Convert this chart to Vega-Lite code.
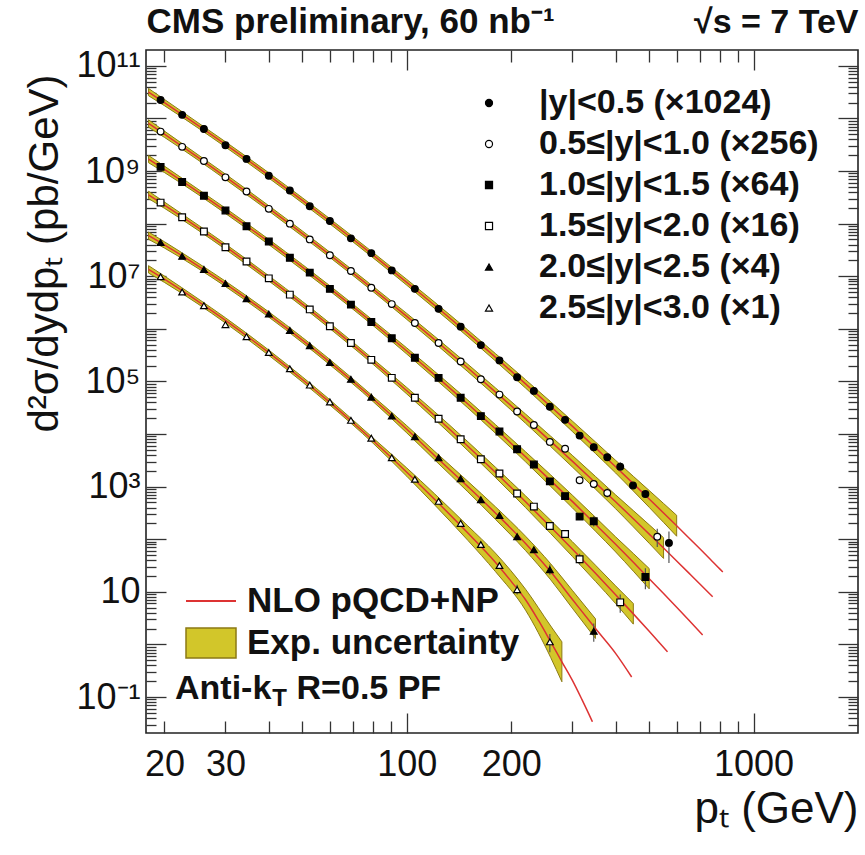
{
  "$schema": "https://vega.github.io/schema/vega-lite/v6.json",
  "width": 712,
  "height": 683,
  "autosize": {"type": "none"},
  "padding": {"left": 146, "top": 50, "right": 7, "bottom": 122},
  "background": "white",
  "datasets": {
    "curve": [
      {"s":1,"pt":18,"v":3.17e10},{"s":1,"pt":20,"v":2.00e10},{"s":1,"pt":25,"v":7.40e9},{"s":1,"pt":30,"v":3.21e9},{"s":1,"pt":40,"v":8.24e8},{"s":1,"pt":50,"v":2.76e8},{"s":1,"pt":60,"v":1.11e8},{"s":1,"pt":70,"v":5.04e7},{"s":1,"pt":80,"v":2.51e7},{"s":1,"pt":100,"v":7.66e6},{"s":1,"pt":120,"v":2.84e6},{"s":1,"pt":150,"v":8.18e5},{"s":1,"pt":180,"v":2.89e5},{"s":1,"pt":220,"v":8.99e4},{"s":1,"pt":260,"v":3.34e4},{"s":1,"pt":300,"v":1.41e4},{"s":1,"pt":350,"v":5.48e3},{"s":1,"pt":400,"v":2.39e3},{"s":1,"pt":450,"v":1.14e3},{"s":1,"pt":500,"v":583},{"s":1,"pt":550,"v":316},{"s":1,"pt":600,"v":180},{"s":1,"pt":650,"v":107},{"s":1,"pt":700,"v":65.8},{"s":1,"pt":750,"v":41.6},{"s":1,"pt":800,"v":27.0},{"s":1,"pt":815,"v":23.9},
      {"s":2,"pt":18,"v":8.02e9},{"s":2,"pt":20,"v":5.01e9},{"s":2,"pt":25,"v":1.82e9},{"s":2,"pt":30,"v":7.78e8},{"s":2,"pt":40,"v":1.95e8},{"s":2,"pt":50,"v":6.46e7},{"s":2,"pt":60,"v":2.55e7},{"s":2,"pt":70,"v":1.15e7},{"s":2,"pt":80,"v":5.70e6},{"s":2,"pt":100,"v":1.72e6},{"s":2,"pt":120,"v":6.31e5},{"s":2,"pt":150,"v":1.80e5},{"s":2,"pt":180,"v":6.34e4},{"s":2,"pt":220,"v":1.96e4},{"s":2,"pt":260,"v":7.24e3},{"s":2,"pt":300,"v":3.05e3},{"s":2,"pt":350,"v":1.18e3},{"s":2,"pt":400,"v":515},{"s":2,"pt":450,"v":245},{"s":2,"pt":500,"v":125},{"s":2,"pt":550,"v":67.9},{"s":2,"pt":600,"v":38.6},{"s":2,"pt":650,"v":22.9},{"s":2,"pt":700,"v":14.1},{"s":2,"pt":762,"v":8.04},
      {"s":3,"pt":18,"v":1.69e9},{"s":3,"pt":20,"v":1.08e9},{"s":3,"pt":25,"v":4.03e8},{"s":3,"pt":30,"v":1.75e8},{"s":3,"pt":40,"v":4.48e7},{"s":3,"pt":50,"v":1.49e7},{"s":3,"pt":60,"v":5.87e6},{"s":3,"pt":70,"v":2.62e6},{"s":3,"pt":80,"v":1.29e6},{"s":3,"pt":100,"v":3.78e5},{"s":3,"pt":120,"v":1.35e5},{"s":3,"pt":150,"v":3.72e4},{"s":3,"pt":180,"v":1.26e4},{"s":3,"pt":220,"v":3.69e3},{"s":3,"pt":260,"v":1.30e3},{"s":3,"pt":300,"v":524},{"s":3,"pt":350,"v":192},{"s":3,"pt":400,"v":80.0},{"s":3,"pt":450,"v":36.4},{"s":3,"pt":500,"v":17.8},{"s":3,"pt":550,"v":9.27},{"s":3,"pt":600,"v":5.07},{"s":3,"pt":650,"v":2.90},{"s":3,"pt":713,"v":1.51},
      {"s":4,"pt":18,"v":3.52e8},{"s":4,"pt":20,"v":2.25e8},{"s":4,"pt":25,"v":8.41e7},{"s":4,"pt":30,"v":3.65e7},{"s":4,"pt":40,"v":9.12e6},{"s":4,"pt":50,"v":2.96e6},{"s":4,"pt":60,"v":1.14e6},{"s":4,"pt":70,"v":4.95e5},{"s":4,"pt":80,"v":2.37e5},{"s":4,"pt":100,"v":6.65e4},{"s":4,"pt":120,"v":2.28e4},{"s":4,"pt":150,"v":5.87e3},{"s":4,"pt":180,"v":1.87e3},{"s":4,"pt":220,"v":516},{"s":4,"pt":260,"v":171},{"s":4,"pt":300,"v":65.3},{"s":4,"pt":350,"v":22.5},{"s":4,"pt":400,"v":8.81},{"s":4,"pt":450,"v":3.81},{"s":4,"pt":500,"v":1.78},{"s":4,"pt":565,"v":0.723},
      {"s":5,"pt":18,"v":5.92e7},{"s":5,"pt":20,"v":3.94e7},{"s":5,"pt":25,"v":1.58e7},{"s":5,"pt":30,"v":7.16e6},{"s":5,"pt":40,"v":1.87e6},{"s":5,"pt":50,"v":6.11e5},{"s":5,"pt":60,"v":2.33e5},{"s":5,"pt":70,"v":9.95e4},{"s":5,"pt":80,"v":4.63e4},{"s":5,"pt":100,"v":1.23e4},{"s":5,"pt":120,"v":3.95e3},{"s":5,"pt":150,"v":1.00e3},{"s":5,"pt":180,"v":316},{"s":5,"pt":220,"v":83.2},{"s":5,"pt":260,"v":24.0},{"s":5,"pt":300,"v":7.24},{"s":5,"pt":350,"v":2.00},{"s":5,"pt":400,"v":0.676},{"s":5,"pt":445,"v":0.240},
      {"s":6,"pt":18,"v":1.35e7},{"s":6,"pt":20,"v":8.77e6},{"s":6,"pt":25,"v":3.33e6},{"s":6,"pt":30,"v":1.45e6},{"s":6,"pt":40,"v":3.52e5},{"s":6,"pt":50,"v":1.09e5},{"s":6,"pt":60,"v":3.99e4},{"s":6,"pt":70,"v":1.64e4},{"s":6,"pt":80,"v":7.46e3},{"s":6,"pt":100,"v":1.88e3},{"s":6,"pt":120,"v":582},{"s":6,"pt":150,"v":131},{"s":6,"pt":180,"v":36.6},{"s":6,"pt":200,"v":15.8},{"s":6,"pt":220,"v":7.08},{"s":6,"pt":240,"v":2.82},{"s":6,"pt":260,"v":1.12},{"s":6,"pt":280,"v":0.468},{"s":6,"pt":300,"v":0.209},{"s":6,"pt":320,"v":0.0891},{"s":6,"pt":343,"v":0.0339}
    ],
    "band": [
      {"s":1,"pt":18,"lo":2.70e10,"hi":3.72e10},{"s":1,"pt":20,"lo":1.75e10,"hi":2.30e10},{"s":1,"pt":25,"lo":6.59e9,"hi":8.30e9},{"s":1,"pt":30,"lo":2.86e9,"hi":3.60e9},{"s":1,"pt":40,"lo":7.35e8,"hi":9.25e8},{"s":1,"pt":50,"lo":2.46e8,"hi":3.10e8},{"s":1,"pt":60,"lo":9.89e7,"hi":1.24e8},{"s":1,"pt":80,"lo":2.23e7,"hi":2.81e7},{"s":1,"pt":100,"lo":6.75e6,"hi":8.69e6},{"s":1,"pt":120,"lo":2.47e6,"hi":3.26e6},{"s":1,"pt":150,"lo":7.05e5,"hi":9.51e5},{"s":1,"pt":180,"lo":2.46e5,"hi":3.40e5},{"s":1,"pt":220,"lo":7.48e4,"hi":1.08e5},{"s":1,"pt":260,"lo":2.72e4,"hi":4.11e4},{"s":1,"pt":300,"lo":1.12e4,"hi":1.77e4},{"s":1,"pt":350,"lo":4.26e3,"hi":7.06e3},{"s":1,"pt":400,"lo":1.82e3,"hi":3.16e3},{"s":1,"pt":450,"lo":826,"hi":1.57e3},{"s":1,"pt":500,"lo":404,"hi":843},{"s":1,"pt":550,"lo":209,"hi":479},{"s":1,"pt":600,"lo":114,"hi":285},
      {"s":2,"pt":18,"lo":6.82e9,"hi":9.42e9},{"s":2,"pt":20,"lo":4.37e9,"hi":5.75e9},{"s":2,"pt":25,"lo":1.62e9,"hi":2.04e9},{"s":2,"pt":30,"lo":6.93e8,"hi":8.73e8},{"s":2,"pt":40,"lo":1.74e8,"hi":2.19e8},{"s":2,"pt":50,"lo":5.75e7,"hi":7.24e7},{"s":2,"pt":60,"lo":2.28e7,"hi":2.86e7},{"s":2,"pt":80,"lo":5.08e6,"hi":6.40e6},{"s":2,"pt":100,"lo":1.51e6,"hi":1.96e6},{"s":2,"pt":120,"lo":5.46e5,"hi":7.29e5},{"s":2,"pt":150,"lo":1.53e5,"hi":2.12e5},{"s":2,"pt":180,"lo":5.31e4,"hi":7.57e4},{"s":2,"pt":220,"lo":1.60e4,"hi":2.40e4},{"s":2,"pt":260,"lo":5.77e3,"hi":9.10e3},{"s":2,"pt":300,"lo":2.37e3,"hi":3.94e3},{"s":2,"pt":350,"lo":895,"hi":1.56e3},{"s":2,"pt":400,"lo":380,"hi":698},{"s":2,"pt":450,"lo":172,"hi":350},{"s":2,"pt":500,"lo":83.6,"hi":188},{"s":2,"pt":550,"lo":43.1,"hi":107},
      {"s":3,"pt":18,"lo":1.44e9,"hi":1.98e9},{"s":3,"pt":20,"lo":9.38e8,"hi":1.24e9},{"s":3,"pt":25,"lo":3.59e8,"hi":4.52e8},{"s":3,"pt":30,"lo":1.56e8,"hi":1.97e8},{"s":3,"pt":40,"lo":3.99e7,"hi":5.02e7},{"s":3,"pt":50,"lo":1.32e7,"hi":1.67e7},{"s":3,"pt":60,"lo":5.24e6,"hi":6.59e6},{"s":3,"pt":80,"lo":1.15e6,"hi":1.44e6},{"s":3,"pt":100,"lo":3.31e5,"hi":4.33e5},{"s":3,"pt":120,"lo":1.16e5,"hi":1.57e5},{"s":3,"pt":150,"lo":3.13e4,"hi":4.42e4},{"s":3,"pt":180,"lo":1.04e4,"hi":1.52e4},{"s":3,"pt":220,"lo":2.96e3,"hi":4.60e3},{"s":3,"pt":260,"lo":1.01e3,"hi":1.67e3},{"s":3,"pt":300,"lo":397,"hi":690},{"s":3,"pt":350,"lo":142,"hi":261},{"s":3,"pt":400,"lo":57.4,"hi":111},{"s":3,"pt":450,"lo":24.7,"hi":53.6},{"s":3,"pt":500,"lo":11.4,"hi":27.7},
      {"s":4,"pt":18,"lo":2.99e8,"hi":4.13e8},{"s":4,"pt":20,"lo":1.96e8,"hi":2.58e8},{"s":4,"pt":25,"lo":7.50e7,"hi":9.44e7},{"s":4,"pt":30,"lo":3.25e7,"hi":4.09e7},{"s":4,"pt":40,"lo":8.13e6,"hi":1.02e7},{"s":4,"pt":50,"lo":2.64e6,"hi":3.32e6},{"s":4,"pt":60,"lo":1.01e6,"hi":1.28e6},{"s":4,"pt":80,"lo":2.11e5,"hi":2.66e5},{"s":4,"pt":100,"lo":5.77e4,"hi":7.67e4},{"s":4,"pt":120,"lo":1.93e4,"hi":2.69e4},{"s":4,"pt":150,"lo":4.83e3,"hi":7.14e3},{"s":4,"pt":180,"lo":1.50e3,"hi":2.35e3},{"s":4,"pt":220,"lo":399,"hi":668},{"s":4,"pt":260,"lo":128,"hi":229},{"s":4,"pt":300,"lo":47.3,"hi":90.2},{"s":4,"pt":350,"lo":15.8,"hi":32.1},{"s":4,"pt":400,"lo":5.98,"hi":13.0},{"s":4,"pt":450,"lo":2.43,"hi":5.98},
      {"s":5,"pt":18,"lo":5.04e7,"hi":6.95e7},{"s":5,"pt":20,"lo":3.44e7,"hi":4.53e7},{"s":5,"pt":25,"lo":1.41e7,"hi":1.78e7},{"s":5,"pt":30,"lo":6.38e6,"hi":8.04e6},{"s":5,"pt":40,"lo":1.67e6,"hi":2.10e6},{"s":5,"pt":50,"lo":5.45e5,"hi":6.86e5},{"s":5,"pt":60,"lo":2.07e5,"hi":2.61e5},{"s":5,"pt":80,"lo":4.13e4,"hi":5.20e4},{"s":5,"pt":100,"lo":1.05e4,"hi":1.44e4},{"s":5,"pt":120,"lo":3.28e3,"hi":4.76e3},{"s":5,"pt":150,"lo":796,"hi":1.26e3},{"s":5,"pt":180,"lo":240,"hi":416},{"s":5,"pt":220,"lo":60.8,"hi":114},{"s":5,"pt":260,"lo":16.9,"hi":34.1},{"s":5,"pt":300,"lo":4.90,"hi":10.7},{"s":5,"pt":350,"lo":1.30,"hi":3.07},
      {"s":6,"pt":18,"lo":1.15e7,"hi":1.59e7},{"s":6,"pt":20,"lo":7.64e6,"hi":1.01e7},{"s":6,"pt":25,"lo":2.97e6,"hi":3.74e6},{"s":6,"pt":30,"lo":1.29e6,"hi":1.62e6},{"s":6,"pt":40,"lo":3.13e5,"hi":3.94e5},{"s":6,"pt":50,"lo":9.73e4,"hi":1.22e5},{"s":6,"pt":60,"lo":3.56e4,"hi":4.48e4},{"s":6,"pt":80,"lo":6.65e3,"hi":8.38e3},{"s":6,"pt":100,"lo":1.57e3,"hi":2.26e3},{"s":6,"pt":120,"lo":457,"hi":741},{"s":6,"pt":150,"lo":95.1,"hi":179},{"s":6,"pt":180,"lo":24.4,"hi":54.7},{"s":6,"pt":220,"lo":4.47,"hi":11.2},{"s":6,"pt":260,"lo":0.562,"hi":2.24},{"s":6,"pt":280,"lo":0.195,"hi":1.12}
    ],
    "pts": [
      {"bin":"|y|<0.5 (×1024)","pt":19.5,"v":2.24e10},{"bin":"|y|<0.5 (×1024)","pt":22.5,"v":1.17e10},{"bin":"|y|<0.5 (×1024)","pt":26,"v":6.31e9},{"bin":"|y|<0.5 (×1024)","pt":30,"v":3.09e9},{"bin":"|y|<0.5 (×1024)","pt":34.5,"v":1.70e9},{"bin":"|y|<0.5 (×1024)","pt":40,"v":8.13e8},{"bin":"|y|<0.5 (×1024)","pt":46,"v":4.27e8},{"bin":"|y|<0.5 (×1024)","pt":52.5,"v":2.14e8},{"bin":"|y|<0.5 (×1024)","pt":60,"v":1.12e8},{"bin":"|y|<0.5 (×1024)","pt":69,"v":5.25e7},{"bin":"|y|<0.5 (×1024)","pt":79,"v":2.75e7},{"bin":"|y|<0.5 (×1024)","pt":90.5,"v":1.29e7},{"bin":"|y|<0.5 (×1024)","pt":105.5,"v":5.75e6},{"bin":"|y|<0.5 (×1024)","pt":123.5,"v":2.40e6},{"bin":"|y|<0.5 (×1024)","pt":143,"v":1.10e6},{"bin":"|y|<0.5 (×1024)","pt":163.5,"v":4.90e5},{"bin":"|y|<0.5 (×1024)","pt":185,"v":2.51e5},{"bin":"|y|<0.5 (×1024)","pt":208,"v":1.20e5},{"bin":"|y|<0.5 (×1024)","pt":232.5,"v":6.61e4},{"bin":"|y|<0.5 (×1024)","pt":258.5,"v":3.31e4},{"bin":"|y|<0.5 (×1024)","pt":286,"v":1.86e4},{"bin":"|y|<0.5 (×1024)","pt":315,"v":9.33e3},{"bin":"|y|<0.5 (×1024)","pt":346,"v":5.62e3},{"bin":"|y|<0.5 (×1024)","pt":378.5,"v":3.63e3},{"bin":"|y|<0.5 (×1024)","pt":412.5,"v":2.40e3},{"bin":"|y|<0.5 (×1024)","pt":449,"v":1.05e3},{"bin":"|y|<0.5 (×1024)","pt":487.5,"v":724},{"bin":"|y|<0.5 (×1024)","pt":570,"v":85.1},
      {"bin":"0.5≤|y|<1.0 (×256)","pt":19.5,"v":5.62e9},{"bin":"0.5≤|y|<1.0 (×256)","pt":22.5,"v":2.88e9},{"bin":"0.5≤|y|<1.0 (×256)","pt":26,"v":1.55e9},{"bin":"0.5≤|y|<1.0 (×256)","pt":30,"v":7.59e8},{"bin":"0.5≤|y|<1.0 (×256)","pt":34.5,"v":4.07e8},{"bin":"0.5≤|y|<1.0 (×256)","pt":40,"v":1.91e8},{"bin":"0.5≤|y|<1.0 (×256)","pt":46,"v":1.00e8},{"bin":"0.5≤|y|<1.0 (×256)","pt":52.5,"v":5.01e7},{"bin":"0.5≤|y|<1.0 (×256)","pt":60,"v":2.51e7},{"bin":"0.5≤|y|<1.0 (×256)","pt":69,"v":1.26e7},{"bin":"0.5≤|y|<1.0 (×256)","pt":79,"v":6.03e6},{"bin":"0.5≤|y|<1.0 (×256)","pt":90.5,"v":2.95e6},{"bin":"0.5≤|y|<1.0 (×256)","pt":105.5,"v":1.29e6},{"bin":"0.5≤|y|<1.0 (×256)","pt":123.5,"v":5.37e5},{"bin":"0.5≤|y|<1.0 (×256)","pt":143,"v":2.40e5},{"bin":"0.5≤|y|<1.0 (×256)","pt":163.5,"v":1.10e5},{"bin":"0.5≤|y|<1.0 (×256)","pt":185,"v":5.62e4},{"bin":"0.5≤|y|<1.0 (×256)","pt":208,"v":2.69e4},{"bin":"0.5≤|y|<1.0 (×256)","pt":232.5,"v":1.48e4},{"bin":"0.5≤|y|<1.0 (×256)","pt":258.5,"v":7.08e3},{"bin":"0.5≤|y|<1.0 (×256)","pt":286,"v":5.25e3},{"bin":"0.5≤|y|<1.0 (×256)","pt":315,"v":1.32e3},{"bin":"0.5≤|y|<1.0 (×256)","pt":346,"v":1.12e3},{"bin":"0.5≤|y|<1.0 (×256)","pt":378.5,"v":759},{"bin":"0.5≤|y|<1.0 (×256)","pt":527.5,"v":112},
      {"bin":"1.0≤|y|<1.5 (×64)","pt":19.5,"v":1.20e9},{"bin":"1.0≤|y|<1.5 (×64)","pt":22.5,"v":6.17e8},{"bin":"1.0≤|y|<1.5 (×64)","pt":26,"v":3.39e8},{"bin":"1.0≤|y|<1.5 (×64)","pt":30,"v":1.78e8},{"bin":"1.0≤|y|<1.5 (×64)","pt":34.5,"v":8.91e7},{"bin":"1.0≤|y|<1.5 (×64)","pt":40,"v":4.57e7},{"bin":"1.0≤|y|<1.5 (×64)","pt":46,"v":2.24e7},{"bin":"1.0≤|y|<1.5 (×64)","pt":52.5,"v":1.17e7},{"bin":"1.0≤|y|<1.5 (×64)","pt":60,"v":5.75e6},{"bin":"1.0≤|y|<1.5 (×64)","pt":69,"v":2.88e6},{"bin":"1.0≤|y|<1.5 (×64)","pt":79,"v":1.35e6},{"bin":"1.0≤|y|<1.5 (×64)","pt":90.5,"v":6.61e5},{"bin":"1.0≤|y|<1.5 (×64)","pt":105.5,"v":2.82e5},{"bin":"1.0≤|y|<1.5 (×64)","pt":123.5,"v":1.17e5},{"bin":"1.0≤|y|<1.5 (×64)","pt":143,"v":4.90e4},{"bin":"1.0≤|y|<1.5 (×64)","pt":163.5,"v":2.19e4},{"bin":"1.0≤|y|<1.5 (×64)","pt":185,"v":1.12e4},{"bin":"1.0≤|y|<1.5 (×64)","pt":208,"v":5.13e3},{"bin":"1.0≤|y|<1.5 (×64)","pt":232.5,"v":2.63e3},{"bin":"1.0≤|y|<1.5 (×64)","pt":258.5,"v":1.26e3},{"bin":"1.0≤|y|<1.5 (×64)","pt":286,"v":661},{"bin":"1.0≤|y|<1.5 (×64)","pt":315,"v":269},{"bin":"1.0≤|y|<1.5 (×64)","pt":346,"v":219},{"bin":"1.0≤|y|<1.5 (×64)","pt":487.5,"v":19.1},
      {"bin":"1.5≤|y|<2.0 (×16)","pt":19.5,"v":2.51e8},{"bin":"1.5≤|y|<2.0 (×16)","pt":22.5,"v":1.32e8},{"bin":"1.5≤|y|<2.0 (×16)","pt":26,"v":7.08e7},{"bin":"1.5≤|y|<2.0 (×16)","pt":30,"v":3.55e7},{"bin":"1.5≤|y|<2.0 (×16)","pt":34.5,"v":1.91e7},{"bin":"1.5≤|y|<2.0 (×16)","pt":40,"v":9.12e6},{"bin":"1.5≤|y|<2.0 (×16)","pt":46,"v":4.47e6},{"bin":"1.5≤|y|<2.0 (×16)","pt":52.5,"v":2.34e6},{"bin":"1.5≤|y|<2.0 (×16)","pt":60,"v":1.12e6},{"bin":"1.5≤|y|<2.0 (×16)","pt":69,"v":5.37e5},{"bin":"1.5≤|y|<2.0 (×16)","pt":79,"v":2.57e5},{"bin":"1.5≤|y|<2.0 (×16)","pt":90.5,"v":1.17e5},{"bin":"1.5≤|y|<2.0 (×16)","pt":105.5,"v":4.90e4},{"bin":"1.5≤|y|<2.0 (×16)","pt":123.5,"v":1.95e4},{"bin":"1.5≤|y|<2.0 (×16)","pt":143,"v":7.94e3},{"bin":"1.5≤|y|<2.0 (×16)","pt":163.5,"v":3.31e3},{"bin":"1.5≤|y|<2.0 (×16)","pt":185,"v":1.78e3},{"bin":"1.5≤|y|<2.0 (×16)","pt":208,"v":741},{"bin":"1.5≤|y|<2.0 (×16)","pt":232.5,"v":417},{"bin":"1.5≤|y|<2.0 (×16)","pt":258.5,"v":178},{"bin":"1.5≤|y|<2.0 (×16)","pt":286,"v":126},{"bin":"1.5≤|y|<2.0 (×16)","pt":315,"v":41.7},{"bin":"1.5≤|y|<2.0 (×16)","pt":412.5,"v":6.31},
      {"bin":"2.0≤|y|<2.5 (×4)","pt":19.5,"v":4.37e7},{"bin":"2.0≤|y|<2.5 (×4)","pt":22.5,"v":2.40e7},{"bin":"2.0≤|y|<2.5 (×4)","pt":26,"v":1.35e7},{"bin":"2.0≤|y|<2.5 (×4)","pt":30,"v":7.24e6},{"bin":"2.0≤|y|<2.5 (×4)","pt":34.5,"v":3.72e6},{"bin":"2.0≤|y|<2.5 (×4)","pt":40,"v":1.91e6},{"bin":"2.0≤|y|<2.5 (×4)","pt":46,"v":9.33e5},{"bin":"2.0≤|y|<2.5 (×4)","pt":52.5,"v":4.79e5},{"bin":"2.0≤|y|<2.5 (×4)","pt":60,"v":2.29e5},{"bin":"2.0≤|y|<2.5 (×4)","pt":69,"v":1.10e5},{"bin":"2.0≤|y|<2.5 (×4)","pt":79,"v":5.01e4},{"bin":"2.0≤|y|<2.5 (×4)","pt":90.5,"v":2.19e4},{"bin":"2.0≤|y|<2.5 (×4)","pt":105.5,"v":8.91e3},{"bin":"2.0≤|y|<2.5 (×4)","pt":123.5,"v":3.55e3},{"bin":"2.0≤|y|<2.5 (×4)","pt":143,"v":1.41e3},{"bin":"2.0≤|y|<2.5 (×4)","pt":163.5,"v":562},{"bin":"2.0≤|y|<2.5 (×4)","pt":185,"v":282},{"bin":"2.0≤|y|<2.5 (×4)","pt":208,"v":112},{"bin":"2.0≤|y|<2.5 (×4)","pt":232.5,"v":63.1},{"bin":"2.0≤|y|<2.5 (×4)","pt":258.5,"v":26.3},{"bin":"2.0≤|y|<2.5 (×4)","pt":346,"v":1.78},
      {"bin":"2.5≤|y|<3.0 (×1)","pt":19.5,"v":9.77e6},{"bin":"2.5≤|y|<3.0 (×1)","pt":22.5,"v":5.01e6},{"bin":"2.5≤|y|<3.0 (×1)","pt":26,"v":2.75e6},{"bin":"2.5≤|y|<3.0 (×1)","pt":30,"v":1.20e6},{"bin":"2.5≤|y|<3.0 (×1)","pt":34.5,"v":7.08e5},{"bin":"2.5≤|y|<3.0 (×1)","pt":40,"v":3.55e5},{"bin":"2.5≤|y|<3.0 (×1)","pt":46,"v":1.74e5},{"bin":"2.5≤|y|<3.0 (×1)","pt":52.5,"v":8.51e4},{"bin":"2.5≤|y|<3.0 (×1)","pt":60,"v":4.07e4},{"bin":"2.5≤|y|<3.0 (×1)","pt":69,"v":1.82e4},{"bin":"2.5≤|y|<3.0 (×1)","pt":79,"v":8.32e3},{"bin":"2.5≤|y|<3.0 (×1)","pt":90.5,"v":3.55e3},{"bin":"2.5≤|y|<3.0 (×1)","pt":105.5,"v":1.38e3},{"bin":"2.5≤|y|<3.0 (×1)","pt":123.5,"v":525},{"bin":"2.5≤|y|<3.0 (×1)","pt":143,"v":200},{"bin":"2.5≤|y|<3.0 (×1)","pt":163.5,"v":79.4},{"bin":"2.5≤|y|<3.0 (×1)","pt":185,"v":31.6},{"bin":"2.5≤|y|<3.0 (×1)","pt":208,"v":11.0},{"bin":"2.5≤|y|<3.0 (×1)","pt":258.5,"v":1.12}
    ],
    "err": [
      {"pt":412.5,"lo":2.0e3,"hi":2.9e3},{"pt":570,"lo":35.5,"hi":141},
      {"pt":378.5,"lo":620,"hi":930},{"pt":527.5,"lo":70.8,"hi":158},
      {"pt":346,"lo":175,"hi":275},{"pt":487.5,"lo":11.2,"hi":28.2},
      {"pt":315,"lo":33,"hi":53},{"pt":412.5,"lo":3.98,"hi":8.91},
      {"pt":258.5,"lo":21,"hi":33},{"pt":346,"lo":1.12,"hi":2.51},
      {"pt":208,"lo":8.9,"hi":13.6},{"pt":258.5,"lo":0.708,"hi":1.58}
    ]
  },
  "layer": [
    {
      "data": {"name": "band"},
      "mark": {"type": "area", "interpolate": "monotone", "stroke": "#8c7a14", "strokeWidth": 1, "opacity": 1, "clip": true},
      "encoding": {
        "x": {"field": "pt", "type": "quantitative", "scale": {"type": "log", "domain": [17.7, 2000], "nice": false},
          "axis": {"orient": "bottom", "values": [20, 30, 100, 200, 1000], "format": "d", "ticks": false, "labelFontSize": 36, "labelPadding": 14, "labelOverlap": false, "labelFlush": false, "labelBound": false,
            "title": "pₜ (GeV)", "titleFontSize": 44, "titleFontWeight": "normal", "titleAnchor": "end", "titlePadding": 5}},
        "y": {"field": "lo", "type": "quantitative", "scale": {"type": "log", "domain": [0.0207, 2e11], "nice": false},
          "axis": {"orient": "left", "values": [0.1, 10, 1000, 1e5, 1e7, 1e9, 1e11], "ticks": false, "labelFontSize": 36, "labelPadding": 6, "labelOverlap": false, "labelFlush": false, "labelBound": false,
            "labelExpr": "datum.value == 1e11 ? '10¹¹' : datum.value == 1e9 ? '10⁹' : datum.value == 1e7 ? '10⁷' : datum.value == 1e5 ? '10⁵' : datum.value == 1000 ? '10³' : datum.value == 10 ? '10' : datum.value == 0.1 ? '10⁻¹' : ''",
            "title": "d²σ/dydpₜ (pb/GeV)", "titleFontSize": 42, "titleFontWeight": "normal", "titleAnchor": "end", "titleY": 24, "titlePadding": 9}},
        "y2": {"field": "hi"},
        "detail": {"field": "s"},
        "fill": {"datum": "Exp. uncertainty", "type": "nominal", "scale": {"range": ["#d2c62a"]},
          "legend": {"orient": "none", "legendX": 39, "legendY": 567, "title": null, "symbolType": "M-1,-0.6H1V0.6H-1Z", "symbolSize": 2500, "symbolStrokeColor": "#8c7a14", "symbolStrokeWidth": 1.5, "symbolFillColor": "#d2c62a", "labelFontSize": 35, "labelFontWeight": "bold", "labelOffset": 10, "labelLimit": 600}}
      }
    },
    {
      "data": {"name": "curve"},
      "mark": {"type": "line", "interpolate": "monotone", "strokeWidth": 1.5, "clip": true},
      "encoding": {
        "x": {"field": "pt", "type": "quantitative", "scale": {"type": "log", "domain": [17.7, 2000], "nice": false},
          "axis": {"orient": "bottom", "values": [100, 1000], "labels": false, "tickSize": -20, "title": null}},
        "y": {"field": "v", "type": "quantitative", "scale": {"type": "log", "domain": [0.0207, 2e11], "nice": false},
          "axis": {"orient": "left", "values": [0.1, 1, 10, 100, 1000, 1e4, 1e5, 1e6, 1e7, 1e8, 1e9, 1e10, 1e11], "labels": false, "tickSize": -20, "title": null}},
        "detail": {"field": "s"},
        "stroke": {"datum": "NLO pQCD+NP", "type": "nominal", "scale": {"range": ["#dd3333"]},
          "legend": {"orient": "none", "legendX": 39, "legendY": 525, "title": null, "symbolType": "stroke", "symbolSize": 2500, "symbolStrokeWidth": 2, "labelFontSize": 35, "labelFontWeight": "bold", "labelOffset": 10, "labelLimit": 600}}
      }
    },
    {
      "data": {"name": "err"},
      "mark": {"type": "rule", "color": "#555555", "strokeWidth": 1.2, "clip": true},
      "encoding": {
        "x": {"field": "pt", "type": "quantitative", "scale": {"type": "log", "domain": [17.7, 2000], "nice": false},
          "axis": {"orient": "bottom", "values": [20, 30, 40, 50, 60, 70, 80, 90, 200, 300, 400, 500, 600, 700, 800, 900], "labels": false, "tickSize": -12, "title": null}},
        "y": {"field": "lo", "type": "quantitative", "scale": {"type": "log", "domain": [0.0207, 2e11], "nice": false},
          "axis": {"orient": "left", "values": [0.03,0.04,0.05,0.06,0.07,0.08,0.09,0.2,0.3,0.4,0.5,0.6,0.7,0.8,0.9,2,3,4,5,6,7,8,9,20,30,40,50,60,70,80,90,200,300,400,500,600,700,800,900,2000,3000,4000,5000,6000,7000,8000,9000,2e4,3e4,4e4,5e4,6e4,7e4,8e4,9e4,2e5,3e5,4e5,5e5,6e5,7e5,8e5,9e5,2e6,3e6,4e6,5e6,6e6,7e6,8e6,9e6,2e7,3e7,4e7,5e7,6e7,7e7,8e7,9e7,2e8,3e8,4e8,5e8,6e8,7e8,8e8,9e8,2e9,3e9,4e9,5e9,6e9,7e9,8e9,9e9,2e10,3e10,4e10,5e10,6e10,7e10,8e10,9e10], "labels": false, "tickSize": -10, "title": null}},
        "y2": {"field": "hi"}
      }
    },
    {
      "data": {"name": "pts"},
      "mark": {"type": "point", "filled": true, "stroke": "black", "strokeWidth": 1.2, "size": 45, "opacity": 1, "clip": true},
      "encoding": {
        "x": {"field": "pt", "type": "quantitative", "scale": {"type": "log", "domain": [17.7, 2000], "nice": false},
          "axis": {"orient": "top", "values": [100, 1000], "labels": false, "tickSize": -20,
            "title": "CMS preliminary, 60 nb⁻¹", "titleFontSize": 35, "titleFontWeight": "bold", "titleAnchor": "start", "titlePadding": 10}},
        "y": {"field": "v", "type": "quantitative", "scale": {"type": "log", "domain": [0.0207, 2e11], "nice": false},
          "axis": {"orient": "right", "values": [0.1, 1, 10, 100, 1000, 1e4, 1e5, 1e6, 1e7, 1e8, 1e9, 1e10, 1e11], "labels": false, "tickSize": -20, "title": null}},
        "color": {"field": "bin", "type": "nominal",
          "scale": {"domain": ["|y|<0.5 (×1024)", "0.5≤|y|<1.0 (×256)", "1.0≤|y|<1.5 (×64)", "1.5≤|y|<2.0 (×16)", "2.0≤|y|<2.5 (×4)", "2.5≤|y|<3.0 (×1)"], "range": ["black", "white", "black", "white", "black", "white"]},
          "legend": {"orient": "none", "legendX": 326, "legendY": 36, "title": null, "labelFontSize": 34, "labelFontWeight": "bold", "labelOffset": 33, "labelLimit": 600, "rowPadding": 7, "symbolSize": 50, "symbolStrokeColor": "black", "symbolStrokeWidth": 1.2}},
        "shape": {"field": "bin", "type": "nominal",
          "scale": {"domain": ["|y|<0.5 (×1024)", "0.5≤|y|<1.0 (×256)", "1.0≤|y|<1.5 (×64)", "1.5≤|y|<2.0 (×16)", "2.0≤|y|<2.5 (×4)", "2.5≤|y|<3.0 (×1)"], "range": ["circle", "circle", "square", "square", "triangle-up", "triangle-up"]},
          "legend": {"orient": "none", "legendX": 326, "legendY": 36, "title": null, "labelFontSize": 34, "labelFontWeight": "bold", "labelOffset": 33, "labelLimit": 600, "rowPadding": 7, "symbolSize": 50, "symbolStrokeColor": "black", "symbolStrokeWidth": 1.2}}
      }
    },
    {
      "data": {"values": [{}]},
      "mark": {"type": "text", "align": "left", "baseline": "middle", "fontSize": 34, "fontWeight": "bold", "color": "#111111"},
      "encoding": {
        "x": {"datum": 21.46, "type": "quantitative", "scale": {"type": "log", "domain": [17.7, 2000], "nice": false},
          "axis": {"orient": "top", "values": [20, 30, 40, 50, 60, 70, 80, 90, 200, 300, 400, 500, 600, 700, 800, 900], "labels": false, "tickSize": -12,
            "title": "√s = 7 TeV", "titleFontSize": 34, "titleFontWeight": "bold", "titleAnchor": "end", "titlePadding": 10}},
        "y": {"datum": 0.1445, "type": "quantitative", "scale": {"type": "log", "domain": [0.0207, 2e11], "nice": false},
          "axis": {"orient": "right", "values": [0.03,0.04,0.05,0.06,0.07,0.08,0.09,0.2,0.3,0.4,0.5,0.6,0.7,0.8,0.9,2,3,4,5,6,7,8,9,20,30,40,50,60,70,80,90,200,300,400,500,600,700,800,900,2000,3000,4000,5000,6000,7000,8000,9000,2e4,3e4,4e4,5e4,6e4,7e4,8e4,9e4,2e5,3e5,4e5,5e5,6e5,7e5,8e5,9e5,2e6,3e6,4e6,5e6,6e6,7e6,8e6,9e6,2e7,3e7,4e7,5e7,6e7,7e7,8e7,9e7,2e8,3e8,4e8,5e8,6e8,7e8,8e8,9e8,2e9,3e9,4e9,5e9,6e9,7e9,8e9,9e9,2e10,3e10,4e10,5e10,6e10,7e10,8e10,9e10], "labels": false, "tickSize": -10, "title": null}},
        "text": {"value": "Anti-k"}
      }
    },
    {
      "data": {"values": [{}]},
      "mark": {"type": "text", "align": "left", "baseline": "middle", "fontSize": 24, "fontWeight": "bold", "color": "#111111", "dy": 10},
      "encoding": {
        "x": {"datum": 40.9, "type": "quantitative", "scale": {"type": "log", "domain": [17.7, 2000], "nice": false}, "axis": null},
        "y": {"datum": 0.1445, "type": "quantitative", "scale": {"type": "log", "domain": [0.0207, 2e11], "nice": false}, "axis": null},
        "text": {"value": "T"}
      }
    },
    {
      "data": {"values": [{}]},
      "mark": {"type": "text", "align": "left", "baseline": "middle", "fontSize": 34, "fontWeight": "bold", "color": "#111111"},
      "encoding": {
        "x": {"datum": 48.1, "type": "quantitative", "scale": {"type": "log", "domain": [17.7, 2000], "nice": false}, "axis": null},
        "y": {"datum": 0.1445, "type": "quantitative", "scale": {"type": "log", "domain": [0.0207, 2e11], "nice": false}, "axis": null},
        "text": {"value": "R=0.5 PF"}
      }
    }
  ],
  "resolve": {"axis": {"x": "independent", "y": "independent"}},
  "config": {
    "font": "Liberation Sans",
    "view": {"stroke": "#222222", "strokeWidth": 1.6},
    "axis": {"grid": false, "domain": false, "tickColor": "#333333", "tickWidth": 1.3, "labelFont": "Liberation Sans", "titleFont": "Liberation Sans", "labelColor": "#111111", "titleColor": "#111111"},
    "legend": {"labelFont": "Liberation Sans", "labelColor": "#111111"},
    "text": {"font": "Liberation Sans"}
  }
}
